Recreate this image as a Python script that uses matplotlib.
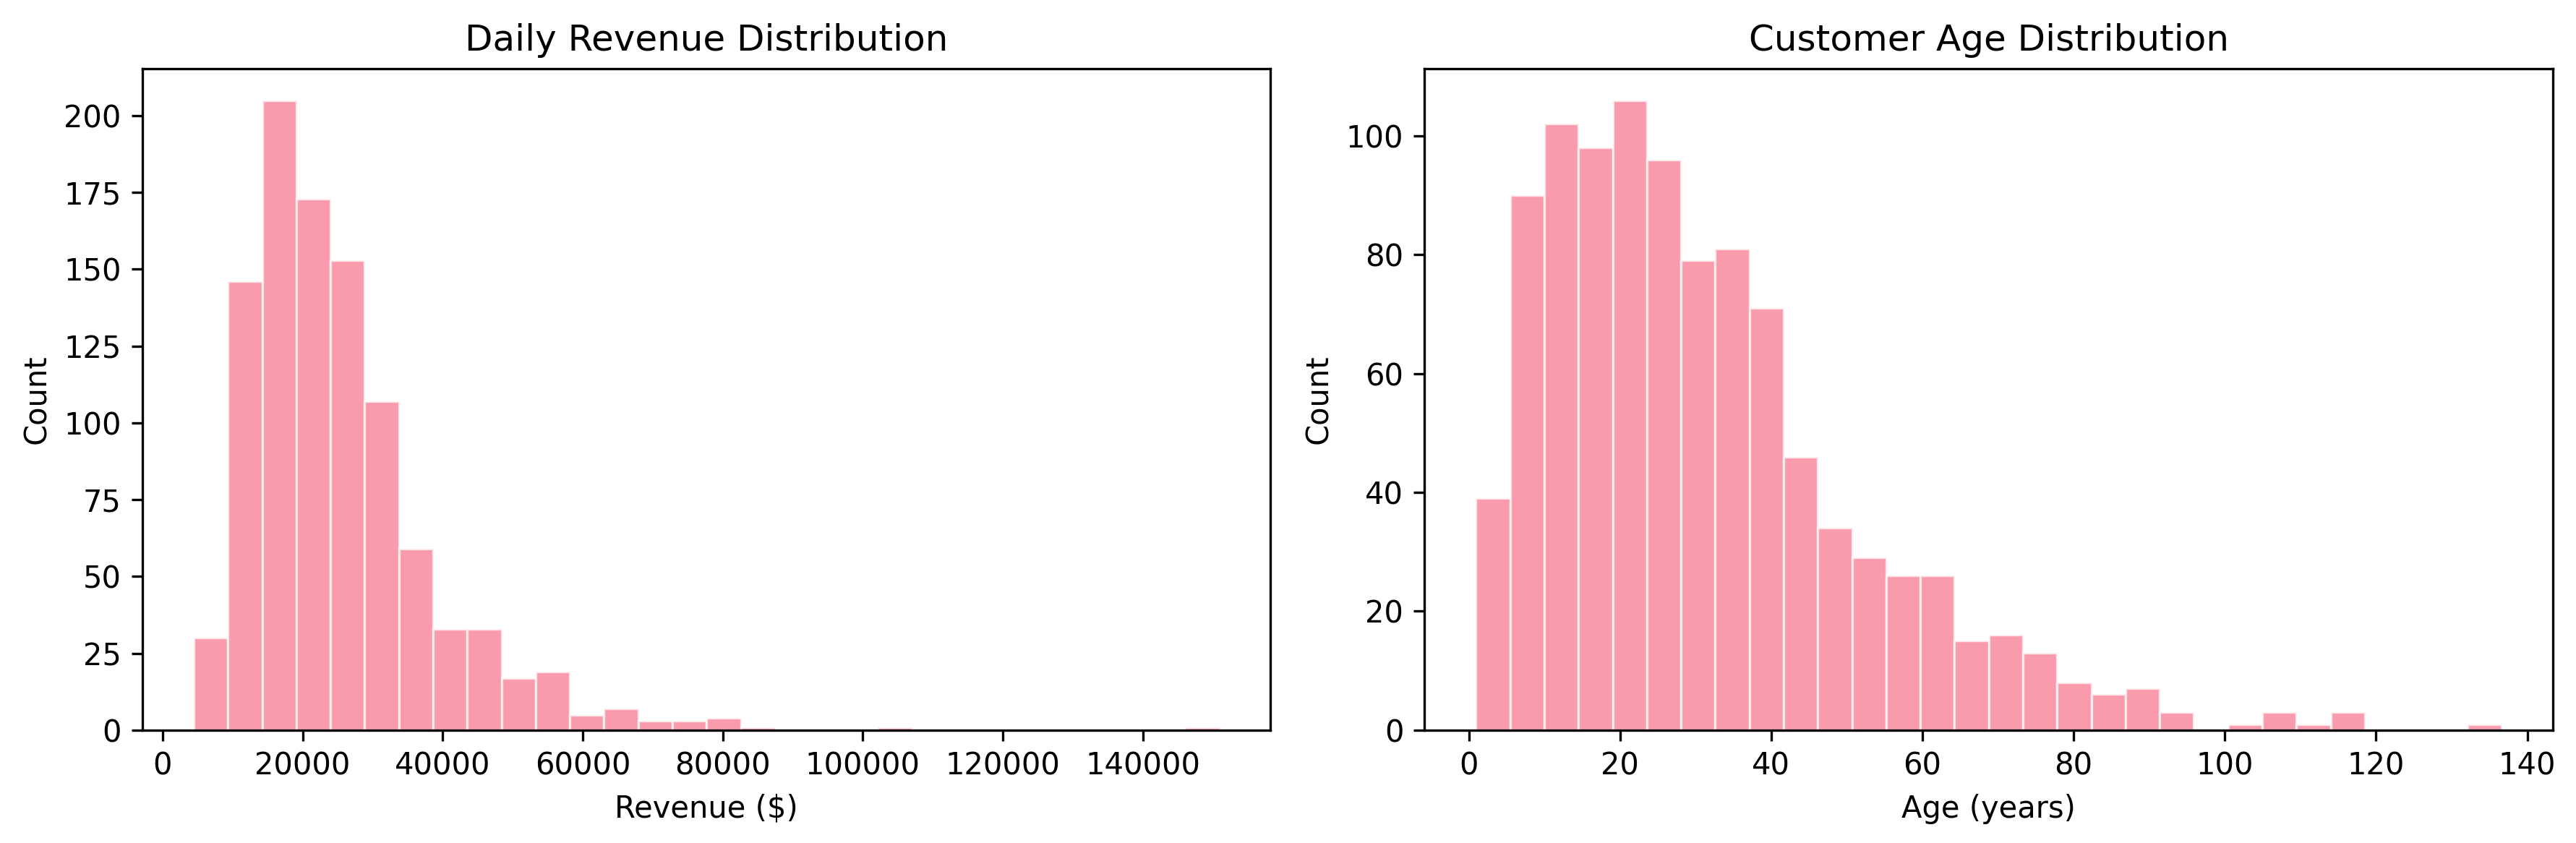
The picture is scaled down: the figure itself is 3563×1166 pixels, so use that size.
import numpy as np
import matplotlib
matplotlib.use("Agg")
import matplotlib.pyplot as plt

# histogram counts (30 bins each)
rev_min, rev_max = 4455, 150915
rev_counts = [30, 146, 205, 173, 153, 107, 59, 33, 33, 17,
              19, 5, 7, 3, 3, 4, 1, 0, 0, 0,
              1, 0, 0, 0, 0, 0, 0, 0, 0, 1]

age_min, age_max = 0.93, 136.6
age_counts = [39, 90, 102, 98, 106, 96, 79, 81, 71, 46,
              34, 29, 26, 26, 15, 16, 13, 8, 6, 7,
              3, 0, 1, 3, 1, 3, 0, 0, 0, 1]

bar_color = '#f77189'

fig, axes = plt.subplots(1, 2, figsize=(3563 / 300, 1166 / 300), dpi=300)

def draw_hist(ax, lo, hi, counts, title, xlabel):
    edges = np.linspace(lo, hi, len(counts) + 1)
    centers = (edges[:-1] + edges[1:]) / 2
    ax.hist(centers, bins=edges, weights=counts, color=bar_color,
            alpha=0.7, edgecolor='white', linewidth=0.8)
    ax.set_title(title)
    ax.set_xlabel(xlabel)
    ax.set_ylabel('Count')

draw_hist(axes[0], rev_min, rev_max, rev_counts,
          'Daily Revenue Distribution', 'Revenue ($)')
draw_hist(axes[1], age_min, age_max, age_counts,
          'Customer Age Distribution', 'Age (years)')

plt.subplots_adjust(left=0.0553, right=0.991, bottom=0.134, top=0.9185, wspace=0.1365)
plt.savefig('out.png', dpi=300)
